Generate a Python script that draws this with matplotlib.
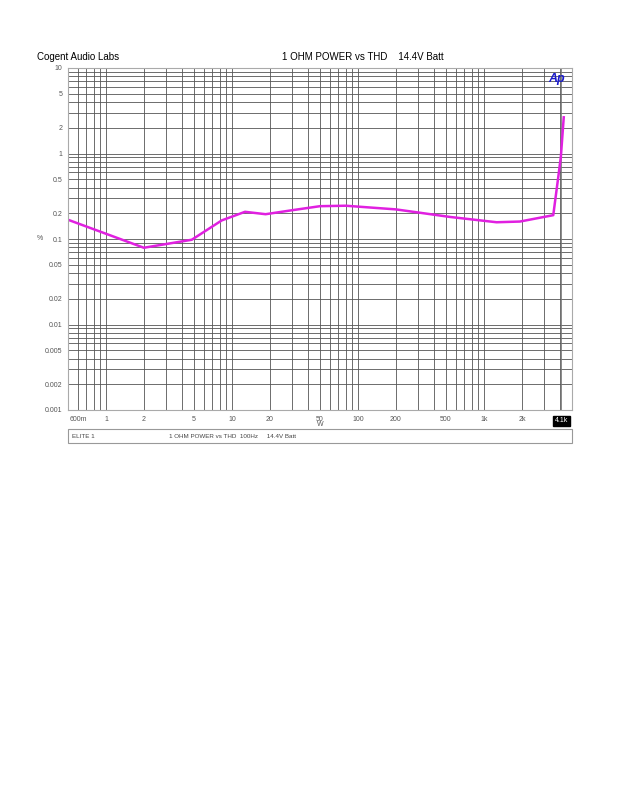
import numpy as np
import matplotlib.pyplot as plt
from matplotlib.patches import Rectangle
from matplotlib.ticker import FixedLocator, LogLocator, NullFormatter

plt.rcParams['font.family'] = ['Liberation Sans', 'DejaVu Sans']

# power (W) vs THD (%)
power_w = [0.5, 2.0, 4.8, 8.3, 12.7, 18.5, 30, 50, 80, 200, 540, 1260, 1930, 3550, 3890, 4080, 4300]
thd_pct = [0.168, 0.079, 0.098, 0.165, 0.208, 0.195, 0.217, 0.242, 0.245, 0.222, 0.181, 0.157, 0.16, 0.19, 0.53, 0.92, 2.65]

xticks = [0.6, 1, 2, 5, 10, 20, 50, 100, 200, 500, 1000, 2000]
xlabels = ["600m", "1", "2", "5", "10", "20", "50", "100", "200", "500", "1k", "2k"]
yticks = [0.001, 0.002, 0.005, 0.01, 0.02, 0.05, 0.1, 0.2, 0.5, 1, 2, 5, 10]
ylabels = ["0.001", "0.002", "0.005", "0.01", "0.02", "0.05", "0.1", "0.2", "0.5", "1", "2", "5", "10"]
marker_x = 4100

fig = plt.figure(figsize=(6.18, 8), dpi=100)
ax = fig.add_axes([68/618, 1-410/800, (572-68)/618, (410-68)/800])
ax.set_xscale("log")
ax.set_yscale("log")
ax.set_xlim(0.5, 5000)
ax.set_ylim(0.001, 10)

ax.xaxis.set_major_locator(FixedLocator(xticks))
ax.set_xticklabels(xlabels)
ax.xaxis.set_minor_locator(LogLocator(base=10, subs=np.arange(1, 10)))
ax.xaxis.set_minor_formatter(NullFormatter())
ax.yaxis.set_major_locator(FixedLocator(yticks))
ax.set_yticklabels(ylabels)
ax.yaxis.set_minor_locator(LogLocator(base=10, subs=np.arange(1, 10)))
ax.yaxis.set_minor_formatter(NullFormatter())

ax.grid(True, which="both", color="#555555", linewidth=0.6)
ax.tick_params(which="both", length=0, labelsize=5, labelcolor="#555555", pad=4)
for s in ax.spines.values():
    s.set_color("#aaaaaa")
    s.set_linewidth(0.8)

ax.axvline(marker_x, color="#777777", linewidth=0.6)
ax.plot(power_w, thd_pct, color="#e020e0", linewidth=1.8)

ax.text(0.985, 0.985, "Ap", transform=ax.transAxes, ha="right", va="top",
        color="#1a1acc", fontsize=9, fontweight="bold", fontstyle="italic")
ax.text(marker_x, 0.00082, "4.1k", ha="center", va="top", fontsize=5, color="white",
        bbox=dict(boxstyle="square,pad=0.25", fc="black", ec="black"))

fig.text(320/618, 1-425/800, "W", ha="center", va="center", fontsize=5, color="#555555")
fig.text(40/618, 1-238/800, "%", ha="center", va="center", fontsize=5, color="#555555")

fig.text(37/618, 1-57/800, "Cogent Audio Labs", ha="left", va="center", fontsize=7)
fig.text(282/618, 1-57/800, "1 OHM POWER vs THD    14.4V Batt", ha="left", va="center", fontsize=7)

fig.patches.append(Rectangle((68/618, 1-443/800), (572-68)/618, 14/800,
                             transform=fig.transFigure, fill=False, ec="#999999", lw=0.8))
fig.text(72/618, 1-436/800, "ELITE 1", ha="left", va="center", fontsize=4.5, color="#444444")
fig.text(169/618, 1-436/800, "1 OHM POWER vs THD  100Hz     14.4V Batt", ha="left", va="center",
         fontsize=4.5, color="#444444")

fig.savefig("out.png", dpi=100)
